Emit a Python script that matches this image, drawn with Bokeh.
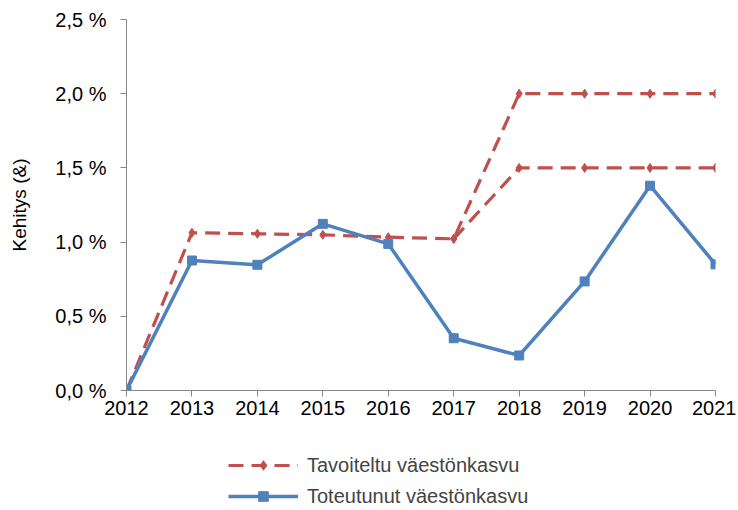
from bokeh.plotting import figure
from bokeh.layouts import column
from bokeh.models import FixedTicker, CustomJSTickFormatter, Legend, LegendItem, Range1d
from bokeh.embed import file_html
from bokeh.resources import INLINE

years = [2012, 2013, 2014, 2015, 2016, 2017, 2018, 2019, 2020, 2021]
target_high = [0.0, 1.063, 1.056, 1.049, 1.033, 1.022, 2.0, 2.0, 2.0, 2.0]
target_low_years = [2017, 2018, 2019, 2020, 2021]
target_low = [1.022, 1.5, 1.5, 1.5, 1.5]
actual = [0.0, 0.876, 0.847, 1.123, 0.988, 0.352, 0.236, 0.735, 1.38, 0.85]
y_ticks = [0.0, 0.5, 1.0, 1.5, 2.0, 2.5]
label_target = "Tavoiteltu väestönkasvu"
label_actual = "Toteutunut väestönkasvu"
y_title = "Kehitys (&)"

RED = "#C0504D"
BLUE = "#4F81BD"
FONT = "Liberation Sans"
DASH = "15 8"

p = figure(width=736, height=440, output_backend="svg", toolbar_location=None,
           x_range=Range1d(2012, 2021), y_range=Range1d(0, 2.5),
           min_border_left=126, min_border_right=21, min_border_top=19, min_border_bottom=50)
p.outline_line_color = None
p.grid.visible = False

p.line(years, target_high, line_color=RED, line_width=3.2, line_dash=DASH)
p.scatter(years, target_high, marker="diamond", size=9, color=RED)
p.line(target_low_years, target_low, line_color=RED, line_width=3.2, line_dash=DASH)
p.scatter(target_low_years, target_low, marker="diamond", size=9, color=RED)
p.line(years, actual, line_color=BLUE, line_width=3.5)
p.scatter(years, actual, marker="square", size=9, color=BLUE)

for ax in (p.xaxis[0], p.yaxis[0]):
    ax.axis_line_color = "#868686"
    ax.major_tick_line_color = "#868686"
    ax.minor_tick_line_color = None
    ax.major_tick_in = 0
    ax.major_tick_out = 6
    ax.major_label_text_font = FONT
    ax.major_label_text_font_size = "20px"
    ax.major_label_text_color = "black"

p.xaxis.ticker = FixedTicker(ticks=years)
p.xaxis.major_label_standoff = 4
p.yaxis.ticker = FixedTicker(ticks=y_ticks)
p.yaxis.formatter = CustomJSTickFormatter(code="return tick.toFixed(1).replace('.', ',') + ' %';")
p.yaxis.major_label_standoff = 14
p.yaxis.axis_label = y_title
p.yaxis.axis_label_text_font = FONT
p.yaxis.axis_label_text_font_size = "19px"
p.yaxis.axis_label_text_font_style = "normal"
p.yaxis.axis_label_text_color = "black"
p.yaxis.axis_label_standoff = 22

# legend strip below the chart (its renderers lie outside its visible range)
q = figure(width=736, height=68, output_backend="svg", toolbar_location=None,
           x_range=Range1d(0, 1), y_range=Range1d(0, 1),
           min_border_left=0, min_border_right=0, min_border_top=0, min_border_bottom=0)
q.axis.visible = False
q.grid.visible = False
q.outline_line_color = None
l1 = q.line(years, target_high, line_color=RED, line_width=3.2, line_dash=DASH)
m1 = q.scatter(years, target_high, marker="diamond", size=9, color=RED)
l2 = q.line(years, actual, line_color=BLUE, line_width=3.5)
m2 = q.scatter(years, actual, marker="square", size=9, color=BLUE)

legend = Legend(items=[LegendItem(label=label_target, renderers=[l1, m1]),
                       LegendItem(label=label_actual, renderers=[l2, m2])],
                location=(102, 0), orientation="vertical")
legend.glyph_width = 70
legend.glyph_height = 24
legend.label_height = 24
legend.spacing = 7
legend.padding = 0
legend.margin = 0
legend.border_line_color = None
legend.background_fill_alpha = 0
legend.label_text_font = FONT
legend.label_text_font_size = "20px"
legend.label_standoff = 9
q.add_layout(legend, "center")

open("out.html", "w").write(file_html(column(p, q, spacing=0), INLINE))
